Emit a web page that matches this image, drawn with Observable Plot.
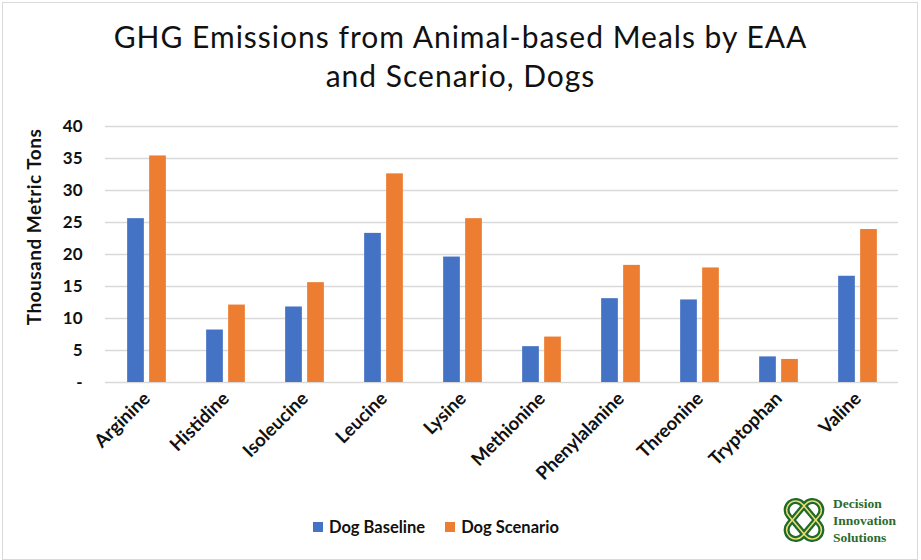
<!DOCTYPE html>
<html>
<head>
<meta charset="utf-8">
<script src="https://cdn.jsdelivr.net/npm/d3@7"></script>
<script src="https://cdn.jsdelivr.net/npm/@observablehq/plot@0.6"></script>
<style>
  html, body { margin: 0; padding: 0; background: #fff; }
  #chart { position: relative; width: 921px; height: 560px; background: #fff; font-family: Lato, "Open Sans", sans-serif; overflow: hidden; }
  #frame { position: absolute; left: 2px; top: 2px; width: 916px; height: 558px; box-sizing: border-box; border: 1px solid #d9d9d9; }
  #title { position: absolute; left: 0; top: 17px; width: 921px; text-align: center; font-size: 30px; line-height: 39px; letter-spacing: 1px; color: #111; }
  #plot { position: absolute; left: 0; top: 110px; }
  #ytitle { position: absolute; left: 33px; top: 227px; transform: translate(-50%, -50%) rotate(-90deg); white-space: nowrap; font-size: 19px; letter-spacing: 0.5px; font-weight: 700; color: #111; }
  #legend { position: absolute; top: 517px; left: 313px; display: flex; gap: 20px; font-size: 16.5px; font-weight: 700; color: #111; }
  #legend .item { display: flex; align-items: center; gap: 6px; }
  #legend .sw { width: 10px; height: 10px; display: inline-block; }
  #logo { position: absolute; left: 783px; top: 493px; display: flex; align-items: center; gap: 8px; }
  #logo .words { font-family: "Liberation Serif", "DejaVu Serif", serif; font-weight: 700; font-size: 13.5px; line-height: 17px; color: #2a6b2f; }
</style>
</head>
<body>
<div id="chart">
  <div id="frame"></div>
  <div id="title">GHG Emissions from Animal-based Meals by EAA<br>and Scenario, Dogs</div>
  <div id="plot"></div>
  <div id="ytitle">Thousand Metric Tons</div>
  <div id="legend"></div>
  <div id="logo">
    <svg width="42" height="54" viewBox="0 0 42 54">
      <g fill="none" stroke-linejoin="round">
        <rect x="12" y="5" width="18" height="44" rx="9" transform="rotate(40 21 27)" stroke="#1f6b2e" stroke-width="6"/>
        <rect x="12" y="5" width="18" height="44" rx="9" transform="rotate(-40 21 27)" stroke="#1f6b2e" stroke-width="6"/>
        <rect x="12" y="5" width="18" height="44" rx="9" transform="rotate(40 21 27)" stroke="#f1de72" stroke-width="1.5"/>
        <rect x="12" y="5" width="18" height="44" rx="9" transform="rotate(-40 21 27)" stroke="#f1de72" stroke-width="1.5"/>
      </g>
    </svg>
    <div class="words">Decision<br>Innovation<br>Solutions</div>
  </div>
</div>
<script>
// Essential amino acids (EAA) and emissions, thousand metric tons
const categories = ["Arginine", "Histidine", "Isoleucine", "Leucine", "Lysine",
  "Methionine", "Phenylalanine", "Threonine", "Tryptophan", "Valine"];
const dogBaseline = [25.6, 8.2, 11.8, 23.3, 19.6, 5.6, 13.1, 12.9, 4.0, 16.6];
const dogScenario = [35.4, 12.1, 15.6, 32.6, 25.6, 7.1, 18.3, 17.9, 3.6, 23.9];
const seriesNames = ["Dog Baseline", "Dog Scenario"];
const seriesColors = ["#4472C4", "#ED7D31"];
const yTicks = [0, 5, 10, 15, 20, 25, 30, 35, 40];
const yTickLabels = ["-", "5", "10", "15", "20", "25", "30", "35", "40"];

const rows = [dogBaseline, dogScenario].flatMap((vals, s) =>
  categories.map((c, i) => ({category: c, series: seriesNames[s], value: vals[i]})));

const width = 921, height = 390;
const marginLeft = 105, marginRight = 23, marginTop = 16, marginBottom = 118;
const step = (width - marginLeft - marginRight) / categories.length;
const barW = 17, barGap = 5;
const outer = (step - 2 * barW - barGap) / 2;

const bars = seriesNames.map((name, s) => Plot.barY(rows.filter(d => d.series === name), {
  x: "category",
  y: "value",
  fill: seriesColors[s],
  insetLeft: outer + s * (barW + barGap),
  insetRight: step - outer - s * (barW + barGap) - barW
}));

const chart = Plot.plot({
  width, height, marginLeft, marginRight, marginTop, marginBottom,
  style: {fontFamily: "Lato, 'Open Sans', sans-serif", color: "#111", background: "transparent"},
  x: {domain: categories, padding: 0, label: null},
  y: {domain: [0, 40], label: null},
  marks: [
    Plot.ruleY(yTicks, {stroke: "#d9d9d9", strokeWidth: 1.5}),
    ...bars,
    Plot.axisY({ticks: yTicks, tickFormat: d => yTickLabels[yTicks.indexOf(d)], tickSize: 0, tickPadding: 23,
      fontSize: 17, fontWeight: 700, label: null}),
    Plot.axisX({tickRotate: -45, tickSize: 0, tickPadding: 13, fontSize: 18.5, fontWeight: 700, label: null})
  ]
});
document.getElementById("plot").appendChild(chart);

const legend = document.getElementById("legend");
seriesNames.forEach((name, s) => {
  const item = document.createElement("div");
  item.className = "item";
  const sw = document.createElement("span");
  sw.className = "sw";
  sw.style.background = seriesColors[s];
  const label = document.createElement("span");
  label.textContent = name;
  item.append(sw, label);
  legend.appendChild(item);
});
</script>
</body>
</html>
